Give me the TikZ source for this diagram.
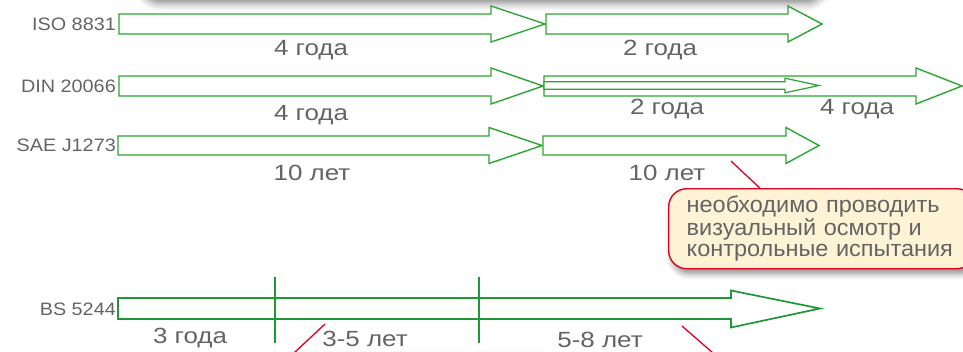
\documentclass[tikz,border=0pt]{standalone}
\usepackage{fontspec}
\setmainfont{Liberation Sans}
\newfontfamily\periodfont[FakeStretch=1.18]{Liberation Sans}
\newfontfamily\labelfont[FakeStretch=1.1]{Liberation Sans}
\newfontfamily\notefont[FakeStretch=1.03]{Liberation Sans}
\usetikzlibrary{shadows.blur}
\definecolor{arrowgreen}{RGB}{44,165,50}
\definecolor{bsgreen}{RGB}{30,152,55}
\definecolor{txtgray}{RGB}{100,100,100}
\definecolor{calloutfill}{RGB}{255,243,214}
\definecolor{calloutred}{RGB}{225,0,30}
\newcommand\fatarrow[7][]{% x0, xb, xt, yc, half body, half head
  \draw[arrowline,#1] (#2,#5-#6) -- (#3,#5-#6) -- (#3,#5-#7) -- (#4,#5) -- (#3,#5+#7) -- (#3,#5+#6) -- (#2,#5+#6) -- cycle;}
\tikzset{
  arrowline/.style={draw=arrowgreen, line width=1.4pt, fill=white, line join=miter},
  period/.style={text=txtgray, font=\periodfont\fontsize{22}{24}\selectfont, inner sep=0pt},
  stdlabel/.style={text=txtgray, font=\labelfont\fontsize{18}{20}\selectfont, anchor=east, inner sep=0pt},
  redline/.style={draw=calloutred, line width=1.3pt},
  tick/.style={draw=bsgreen, line width=1.7pt},
  calloutbox/.style={draw=calloutred, line width=1.4pt, fill=calloutfill, rounded corners=18pt,
    text=txtgray, font=\notefont\fontsize{22.8}{21}\selectfont, align=left,
    blur shadow={shadow xshift=3pt, shadow yshift=-5pt, shadow blur radius=6pt, shadow opacity=45}},
}
\begin{document}
\begin{tikzpicture}[x=1pt,y=-1pt]
\useasboundingbox (0,0) rectangle (963,351);
\clip (0,0) rectangle (963,351);
% shadows of callouts lying outside the picture
\path[fill=white, rounded corners=18pt, blur shadow={shadow xshift=2pt, shadow yshift=-4pt, shadow blur radius=8pt, shadow opacity=50}] (140,-90) rectangle (822,-1);
\path[fill=white, rounded corners=18pt, blur shadow={shadow xshift=3pt, shadow yshift=-5pt, shadow blur radius=8pt, shadow opacity=40}] (292,354) rectangle (560,430);
% ISO 8831
\node[stdlabel] (l1) at (116,24) {ISO 8831};
\fatarrow{119}{491}{545}{24}{10}{18}
\fatarrow{546}{788}{822}{24}{10}{18}
\node[period] (t1a) at (311,50) {4 года};
\node[period] (t1b) at (660,50) {2 года};
% DIN 20066
\node[stdlabel] (l2) at (116,86) {DIN 20066};
\fatarrow{119}{491}{543}{86}{10}{18}
\fatarrow{544}{916}{962}{86}{10}{18}
\fatarrow[line width=1.2pt]{544}{785}{819}{85.5}{3.8}{7.3}
\node[period] (t2a) at (311,115) {4 года};
\node[period] (t2b) at (667,109) {2 года};
\node[period] (t2c) at (857,109) {4 года};
% SAE J1273
\node[stdlabel] (l3) at (116,145.5) {SAE J1273};
\fatarrow{118}{489}{542}{145.5}{9.5}{18}
\fatarrow{543}{786}{819}{145.5}{9.5}{18}
\node[period] (t3a) at (312,173) {10 лет};
\node[period] (t3b) at (667,173) {10 лет};
% BS 5244
\node[stdlabel] (l4) at (116,309) {BS 5244};
\draw[tick, fill=white, line join=miter] (118,298) -- (731,298) -- (731,290.5) -- (820,308.5) -- (731,327.5) -- (731,319) -- (118,319) -- cycle;
\coordinate (v1t) at (275,276.5); \coordinate (v1b) at (275,343);
\coordinate (v2t) at (479,276.5); \coordinate (v2b) at (479,343);
\draw[tick] (v1t) -- (v1b);
\draw[tick] (v2t) -- (v2b);
\node[period] (t4a) at (190,338.5) {3 года};
\node[period] (t4b) at (365,338.5) {3-5 лет};
\node[period] (t4c) at (600,339.5) {5-8 лет};
% callout
\coordinate (p1) at (731,161);
\coordinate (p2) at (764,192);
\draw[redline] (p1) -- (p2);
\node[calloutbox, anchor=north west, minimum width=300pt, minimum height=80pt, text width=270pt, inner xsep=18pt, inner ysep=0pt] (note) at (668,188) {необходимо проводить\\визуальный осмотр и\\контрольные испытания};
% pointers of callouts lying below the picture
\coordinate (q1) at (325,324); \coordinate (q2) at (294,353);
\coordinate (r1) at (682,326); \coordinate (r2) at (713,353);
\draw[redline] (q1) -- (q2);
\draw[redline] (r1) -- (r2);
\end{tikzpicture}
\end{document}
